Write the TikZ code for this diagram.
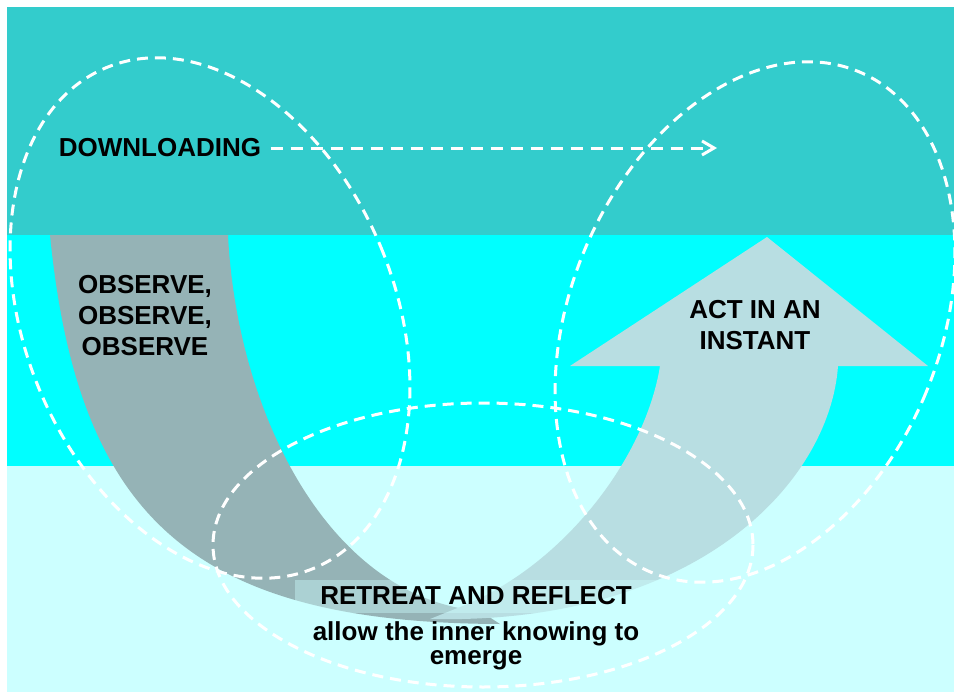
\documentclass[tikz,border=0pt]{standalone}
\usepackage{fontspec}
\setmainfont{Liberation Sans}
\usetikzlibrary{positioning,arrows.meta}
\definecolor{uteal}{RGB}{51,204,204}
\definecolor{ucyan}{RGB}{0,255,255}
\definecolor{ulight}{RGB}{204,255,255}
\definecolor{ugrey}{RGB}{149,179,182}
\definecolor{upale}{RGB}{184,222,226}
\tikzset{
  lbl/.style={font=\fontsize{26}{31}\selectfont\bfseries, align=center, text=black},
  dashring/.style={draw=white, line width=3pt, dash pattern=on 11pt off 7pt},
  dasharrow/.style={draw=white, line width=3pt, dash pattern=on 12pt off 8pt, -{Straight Barb[length=12pt,width=14pt]}},
  infobox/.style={fill=ulight, fill opacity=0.4, text opacity=1, minimum width=362pt, minimum height=33pt, inner sep=0pt}
}
\begin{document}
\begin{tikzpicture}[x=1pt, y=-1pt]
    \useasboundingbox (0,0) rectangle (954,693);
    \fill[white] (0,0) rectangle (954,693);
    \fill[uteal] (7,7) rectangle (954,235);
    \fill[ucyan] (7,235) rectangle (954,466);
    \fill[ulight] (7,466) rectangle (954,692);
    \fill[ugrey] (50,235) .. controls (78,515) and (190,623) .. (500,624) -- (480,611) .. controls (330,598) and (237,415) .. (228,235) -- cycle;
    \fill[upale] (570,366) -- (767,237) -- (928,366) -- (838,366) .. controls (830,480) and (700,625) .. (430,619) -- (455,609) .. controls (560,570) and (645,460) .. (660,366) -- cycle;
    \draw[dashring, rotate around={22.5:(210,318)}] (210,318) ellipse [x radius=185, y radius=271];
    \draw[dashring, rotate around={-22.5:(755,322)}] (755,322) ellipse [x radius=185, y radius=271];
    \draw[dashring] (483,545) ellipse [x radius=270, y radius=142];
    \node[lbl] (down) at (160,148) {DOWNLOADING};
    \coordinate (downend) at (717,148);
    \draw[dasharrow, shorten <=6pt] (down) -- (downend);
    \node[lbl] (observe) at (145,316) {OBSERVE,\\OBSERVE,\\OBSERVE};
    \node[lbl] (act) at (755,325) {ACT IN AN\\INSTANT};
    \node[lbl, infobox] (retreat) at (476,596) {RETREAT AND REFLECT};
    \node[lbl, font=\fontsize{26}{24}\selectfont\bfseries, inner sep=4pt, below=5pt of retreat] (emerge) {allow the inner knowing to\\emerge};
  \end{tikzpicture}
\end{document}
